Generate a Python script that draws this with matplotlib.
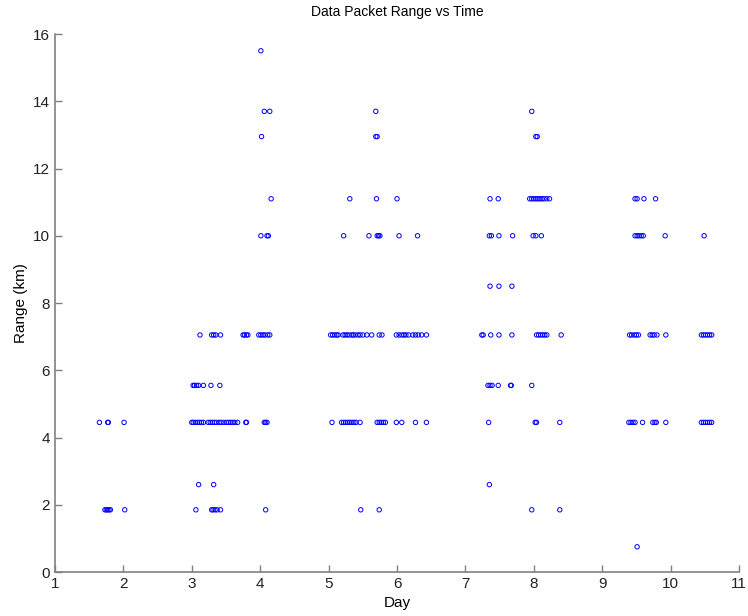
import numpy as np
import matplotlib
matplotlib.use('Agg')
import matplotlib.pyplot as plt

plt.rcParams['font.family'] = ['Liberation Sans', 'DejaVu Sans']

# Day values, grouped by range level (km)
days_075 = [9.51]
days_185 = [1.73, 1.75, 1.77, 1.79, 1.81, 2.02, 3.06, 3.29, 3.31, 3.34, 3.37, 3.42,
            4.08, 5.47, 5.74, 7.97, 8.38]
days_260 = [3.10, 3.32, 7.35]
days_445 = [1.65, 1.77, 1.78, 2.01, 3.00, 3.02, 3.05, 3.08, 3.11, 3.14, 3.17, 3.24,
            3.27, 3.30, 3.33, 3.36, 3.40, 3.43, 3.47, 3.51, 3.54, 3.57, 3.60, 3.63,
            3.67, 3.79, 3.80, 4.06, 4.08, 4.10, 5.05, 5.19, 5.22, 5.25, 5.28, 5.31,
            5.34, 5.37, 5.40, 5.46, 5.71, 5.74, 5.77, 5.80, 5.83, 5.99, 6.07, 6.27,
            6.43, 7.34, 8.02, 8.04, 8.38, 9.39, 9.42, 9.45, 9.48, 9.59, 9.74, 9.77,
            9.79, 9.93, 10.45, 10.48, 10.51, 10.54, 10.57, 10.60]
days_555 = [3.02, 3.04, 3.07, 3.10, 3.17, 3.28, 3.41, 7.33, 7.36, 7.39, 7.48, 7.66,
            7.67, 7.97]
days_705 = [3.12, 3.29, 3.32, 3.35, 3.42, 3.75, 3.77, 3.80, 3.82, 3.98, 4.01, 4.04,
            4.07, 4.11, 4.14, 5.03, 5.06, 5.09, 5.12, 5.14, 5.21, 5.24, 5.27, 5.30,
            5.34, 5.36, 5.39, 5.43, 5.46, 5.50, 5.56, 5.63, 5.74, 5.78, 5.99, 6.03,
            6.07, 6.10, 6.13, 6.17, 6.23, 6.27, 6.31, 6.36, 6.43, 7.24, 7.26, 7.37,
            7.49, 7.68, 8.04, 8.07, 8.10, 8.13, 8.16, 8.19, 8.40, 9.40, 9.43, 9.47,
            9.50, 9.53, 9.70, 9.73, 9.76, 9.80, 9.93, 10.45, 10.48, 10.51, 10.54,
            10.57, 10.60]
days_850 = [7.36, 7.49, 7.68]
days_1000 = [4.01, 4.10, 4.12, 5.22, 5.59, 5.71, 5.73, 5.75, 6.03, 6.30, 7.35, 7.38,
             7.49, 7.69, 7.99, 8.03, 8.11, 9.48, 9.51, 9.54, 9.57, 9.60, 9.92, 10.49]
days_1110 = [4.16, 5.31, 5.70, 6.00, 7.36, 7.48, 7.94, 7.97, 8.00, 8.03, 8.06, 8.09,
             8.12, 8.15, 8.19, 8.23, 9.48, 9.51, 9.61, 9.78]
days_1295 = [4.02, 5.69, 5.71, 8.03, 8.05]
days_1370 = [4.06, 4.14, 5.69, 7.97]
days_1550 = [4.01]

levels = {
    0.75: days_075, 1.85: days_185, 2.6: days_260, 4.45: days_445,
    5.55: days_555, 7.05: days_705, 8.5: days_850, 10.0: days_1000,
    11.1: days_1110, 12.95: days_1295, 13.7: days_1370, 15.5: days_1550,
}

day = np.concatenate([np.array(d) for d in levels.values()])
rng = np.concatenate([np.full(len(d), r) for r, d in levels.items()])

fig = plt.figure(figsize=(7.48, 6.16), dpi=100)
ax = fig.add_axes([0.0735, 0.0714, 0.9145, 0.8734])

ax.scatter(day, rng, s=10, facecolors='none', edgecolors='#0000ff', linewidths=0.7)

ax.set_xlim(1, 11)
ax.set_ylim(0, 16)
ax.set_xticks(range(1, 12))
ax.set_yticks(range(0, 17, 2))

ax.set_title('Data Packet Range vs Time', fontsize=10, pad=13)
ax.set_xlabel('Day', fontsize=11, labelpad=4)
ax.set_ylabel('Range (km)', fontsize=11, labelpad=4)

for side in ['top', 'right']:
    ax.spines[side].set_visible(False)
for side in ['left', 'bottom']:
    ax.spines[side].set_color('#808080')
    ax.spines[side].set_linewidth(1.2)
ax.tick_params(direction='in', length=5, width=1, color='#808080',
               labelsize=11, labelcolor='#222222')

plt.savefig('out.png', dpi=100)
